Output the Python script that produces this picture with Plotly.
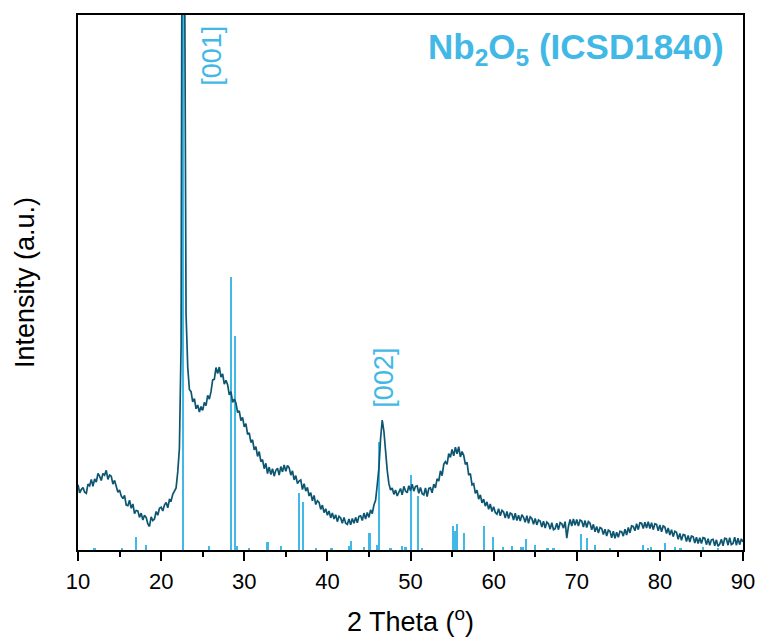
import numpy as np
import plotly.graph_objects as go

# 2-theta sampling grid (degrees) of the measured pattern
two_theta = np.round(np.arange(10.0, 90.001, 0.2), 2)

intensity = [
    12.2, 10.7, 11.3, 11.7, 10.8, 10.6, 12.3, 12.0, 13.2, 11.9, 13.3, 12.7, 14.3, 13.8, 13.0, 14.3, 14.0, 14.9, 13.2, 14.0, 13.8, 12.3, 13.0, 11.6, 10.8,
    11.2, 10.1, 9.6, 10.2, 8.4, 8.3, 9.3, 7.8, 8.6, 6.8, 7.4, 7.3, 6.1, 6.9, 5.6, 6.5, 6.1, 4.9, 4.4, 6.2, 5.5, 5.8, 7.2, 6.5, 7.8,
    8.0, 7.3, 8.4, 8.9, 7.9, 9.4, 9.2, 10.4, 11.0, 11.6, 14.6, 19.0, 38.0, 180.0, 120.0, 44.0, 34.2, 30.0, 29.6, 27.7, 28.3, 26.4, 27.1, 25.8, 26.8,
    26.1, 27.6, 27.0, 28.9, 28.2, 29.6, 31.8, 31.9, 34.1, 33.0, 34.2, 32.3, 32.9, 31.0, 31.7, 30.9, 29.0, 29.6, 27.6, 28.2, 27.5, 25.7, 26.0, 24.2, 24.8,
    23.0, 23.6, 21.6, 21.9, 20.1, 20.6, 18.7, 19.3, 17.5, 18.4, 16.5, 16.9, 15.2, 16.2, 14.3, 15.5, 14.1, 15.2, 13.8, 14.9, 15.3, 14.0, 15.6, 14.6, 15.9,
    14.7, 15.8, 15.4, 14.0, 14.8, 13.1, 13.9, 12.4, 12.9, 13.1, 11.3, 12.4, 11.0, 11.7, 10.1, 10.7, 9.2, 10.2, 8.5, 9.2, 8.9, 7.6, 8.4, 7.0, 7.7,
    6.5, 7.3, 6.0, 6.9, 5.8, 6.6, 5.3, 6.3, 6.0, 5.0, 6.1, 5.0, 4.8, 5.8, 4.7, 5.9, 5.0, 6.1, 5.1, 6.3, 6.4, 5.5, 6.9, 5.8, 7.0,
    6.1, 7.5, 6.8, 8.4, 9.3, 12.2, 15.3, 20.8, 24.3, 22.2, 17.8, 14.9, 12.4, 11.2, 11.6, 10.4, 11.2, 10.1, 10.8, 11.5, 10.3, 11.9, 11.0, 10.7, 12.0,
    11.1, 12.3, 11.0, 11.9, 12.0, 10.6, 11.7, 10.5, 10.3, 11.6, 10.0, 11.5, 11.6, 10.7, 12.3, 11.6, 13.3, 12.9, 14.8, 13.9, 16.0, 16.5, 16.0, 18.0, 17.3,
    18.8, 17.6, 19.2, 18.0, 19.3, 17.4, 18.4, 17.7, 16.0, 16.4, 14.0, 14.3, 12.2, 12.4, 10.6, 11.2, 9.5, 10.3, 8.8, 9.5, 8.2, 9.0, 7.6, 8.6, 7.2,
    8.1, 7.0, 6.7, 7.7, 6.4, 7.4, 7.1, 6.0, 7.2, 5.9, 6.9, 6.7, 5.6, 6.9, 5.5, 6.5, 5.4, 6.6, 6.1, 5.2, 6.4, 5.0, 6.2, 5.9, 4.8,
    5.9, 4.7, 5.6, 5.4, 4.3, 5.4, 4.1, 5.2, 4.9, 3.9, 5.1, 3.8, 4.0, 5.0, 3.8, 5.1, 4.9, 4.1, 5.3, 2.2, 4.4, 5.7, 4.5, 5.8, 4.6,
    5.7, 4.5, 5.6, 5.4, 4.3, 5.5, 4.2, 5.3, 5.0, 3.8, 4.8, 3.4, 4.4, 3.2, 4.2, 4.0, 2.9, 3.9, 2.6, 3.7, 3.5, 2.3, 3.5, 2.2, 3.3,
    2.4, 3.5, 3.4, 2.6, 3.9, 2.8, 4.2, 3.2, 4.5, 4.4, 3.6, 4.9, 3.8, 5.1, 5.0, 4.0, 5.2, 4.1, 5.3, 4.0, 5.1, 3.8, 4.9, 4.8, 3.6,
    4.7, 3.4, 4.5, 4.3, 3.1, 4.1, 2.8, 3.8, 2.5, 3.5, 3.3, 2.0, 3.1, 1.8, 2.9, 2.8, 1.6, 2.7, 1.5, 2.6, 2.5, 1.3, 2.4, 1.2, 2.3,
    1.2, 2.3, 2.2, 1.0, 2.1, 0.9, 1.9, 2.0, 0.8, 1.9, 0.7, 1.1, 2.0, 0.8, 2.2, 2.1, 0.9, 2.3, 1.0, 1.2, 2.4, 0.9, 2.2, 1.0, 2.1,
    1.5,
]

# Reference pattern Nb2O5 (ICSD 1840): stick positions and relative heights
ref_pos = [12.0, 15.3, 16.94, 18.18, 22.62, 25.76, 28.37, 28.85, 29.09, 30.6,
           32.78, 34.38, 36.58, 37.03, 38.6, 40.5, 42.64, 42.84, 44.4, 45.05,
           45.93, 46.17, 47.6, 49.0, 49.4, 50.06, 50.94, 51.4, 55.08, 55.35,
           55.63, 56.47, 58.84, 59.96, 61.1, 62.25, 63.3, 63.5, 63.9, 64.98,
           66.5, 67.2, 70.51, 71.27, 72.16, 74.0, 77.93, 78.6, 78.93, 80.62,
           81.8, 82.5, 85.15, 87.0]
ref_int = [0.2, 0.2, 2.5, 0.9, 120.0, 0.7, 51.0, 40.0, 0.8, 0.3,
           1.5, 0.7, 10.7, 9.0, 0.2, 0.2, 0.7, 1.6, 0.5, 3.1,
           1.0, 20.2, 0.2, 0.8, 0.5, 14.1, 10.1, 0.2, 4.4, 3.6,
           4.8, 3.2, 4.4, 2.5, 0.6, 0.7, 0.5, 0.5, 2.0, 0.9,
           0.4, 0.3, 2.9, 2.2, 0.9, 0.2, 1.0, 0.4, 0.6, 1.3,
           0.6, 0.3, 0.6, 0.2]

# peak labels
peak_labels = ["[001]", "[002]"]
peak_label_x = [26.2, 46.8]
peak_label_y = [92.3, 32.2]

x_ticks = [10, 20, 30, 40, 50, 60, 70, 80, 90]

LINE_C = "#0c5672"
REF_C = "#41b8e6"
FONT = "Arial, Liberation Sans, Helvetica, sans-serif"

fig = go.Figure()
fig.add_trace(go.Scatter(x=two_theta, y=intensity, mode="lines",
                         line=dict(color=LINE_C, width=1.7), showlegend=False))
fig.add_trace(go.Bar(x=ref_pos, y=ref_int, width=0.28, marker=dict(color=REF_C, line_width=0),
                     showlegend=False))

for t, xx, yy in zip(peak_labels, peak_label_x, peak_label_y):
    fig.add_annotation(x=xx, y=yy, text=t, showarrow=False, textangle=-90,
                       font=dict(family=FONT, size=27, color=REF_C))

fig.add_annotation(xref="paper", yref="paper", x=0.975, y=0.937, xanchor="right", yanchor="middle",
                   text="<b>Nb<sub>2</sub>O<sub>5</sub> (ICSD1840)</b>", showarrow=False,
                   font=dict(family=FONT, size=35, color=REF_C))

fig.update_layout(
    width=760, height=637,
    margin=dict(l=78, r=17, t=15, b=87),
    plot_bgcolor="white", paper_bgcolor="white",
    font=dict(family=FONT, color="black"),
    bargap=0,
    xaxis=dict(range=[10, 90], tickvals=x_ticks, ticks="outside", ticklen=9, tickwidth=1.5,
               tickcolor="black", showline=True, linecolor="black", linewidth=2, mirror=True,
               showgrid=False, zeroline=False, tickfont=dict(size=22), ticklabelstandoff=2,
               automargin=False,
               minor=dict(dtick=5, tick0=10, ticks="outside", ticklen=5, tickwidth=1.5, tickcolor="black", showgrid=False),
               title=dict(text="2 Theta (<sup>o</sup>)", font=dict(size=27), standoff=20)),
    yaxis=dict(range=[0, 100], showticklabels=False, ticks="", showline=True, linecolor="black",
               linewidth=2, mirror=True, showgrid=False, zeroline=False, automargin=False,
               title=dict(text="Intensity (a.u.)", font=dict(size=27), standoff=34)),
)

# remove the browser's default 8 px page margin so the figure fills the window exactly
fig.write_html("out.html", config={"displayModeBar": False},
               post_script="document.body.style.margin='0';document.body.style.overflow='hidden';")
